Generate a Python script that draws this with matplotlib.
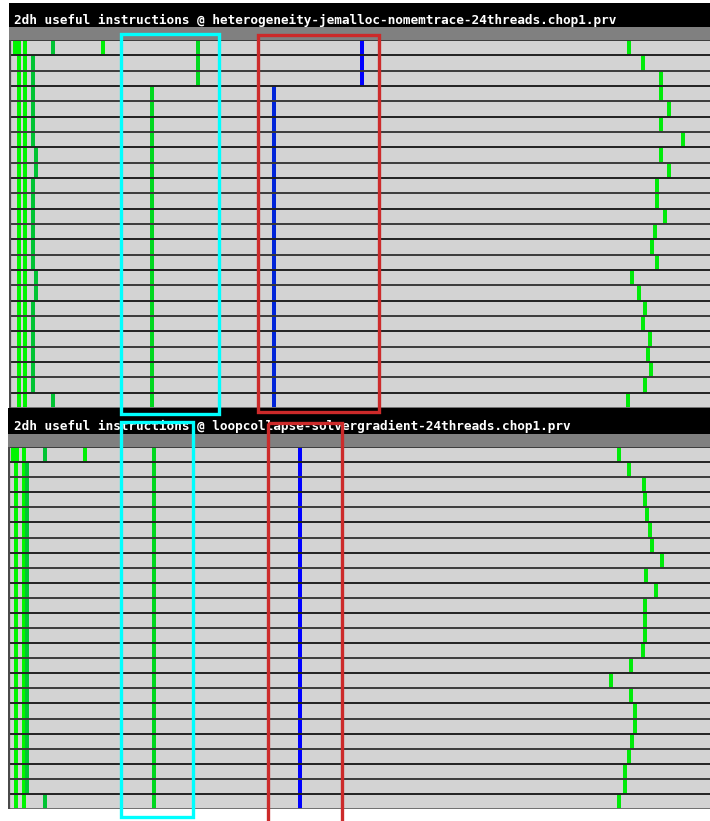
import matplotlib
matplotlib.use("Agg")
import matplotlib.pyplot as plt
from matplotlib.colors import LinearSegmentedColormap
from matplotlib.patches import Rectangle

# ---------------------------------------------------------------------------
# Paraver-style 2D histograms: one row per thread, x = useful-instruction bin,
# colour = cell value on a green (low) -> blue (high) gradient.
# ---------------------------------------------------------------------------
N_THREADS = 24
BIN_W = 4.0

TOP_TITLE = "2dh useful instructions @ heterogeneity-jemalloc-nomemtrace-24threads.chop1.prv"
BOT_TITLE = "2dh useful instructions @ loopcollapse-solvergradient-24threads.chop1.prv"

# --- heterogeneity-jemalloc run -------------------------------------------
top_bin_a = [12.5, 16.5] + [16.5] * 23          # thread 1 occupies two adjacent bins
top_bin_a_rows = [0, 0] + list(range(1, 24))
top_bin_b = [23.0] * 24
top_bin_c = [51.0, 30.8, 30.8, 30.8, 30.8, 30.8, 30.8, 34.0, 34.0, 30.8, 30.8, 30.8,
             30.8, 30.8, 30.8, 34.0, 34.0, 30.8, 30.8, 30.8, 30.8, 30.8, 30.8, 51.0]
top_bin_c_level = [0.2] * 24
top_extra_x, top_extra_row = [100.8], [0]
top_mid = [195.8] * 3 + [149.8] * 21
top_peak = [360.0] * 3 + [271.8] * 21
top_peak_level = [1.0] * 3 + [0.85] * 21
top_tail = [628.5, 643.0, 660.5, 660.5, 668.5, 660.5, 682.5, 660.5, 668.5, 657.0, 657.0, 664.5,
            655.0, 652.0, 657.0, 632.0, 639.0, 645.0, 643.0, 650.0, 648.0, 651.0, 645.0, 628.0]

# --- loopcollapse-solvergradient run --------------------------------------
bot_bin_a = [11.2, 15.0] + [14.0] * 23
bot_bin_a_rows = [0, 0] + list(range(1, 24))
bot_bin_b = [21.8] * 24
bot_bin_c = [42.5] + [25.2] * 22 + [42.5]
bot_extra_x, bot_extra_row = [83.3], [0]
bot_mid = [151.5] * 24
bot_peak = [298.2] * 24
bot_peak_level = [1.0] * 24
bot_tail = [618.5, 628.5, 643.5, 645.0, 647.0, 650.0, 652.0, 662.0, 646.0, 656.0, 645.0, 645.0,
            645.0, 643.0, 631.0, 611.0, 631.0, 635.0, 635.0, 632.0, 629.0, 625.0, 625.0, 619.0]

# highlighted regions (x in bin units, y in figure pixels)
TOP_BOXES = [(121.0, 219.0, 34.5, 414.0, "#00ffff"), (257.7, 379.0, 35.0, 412.5, "#cc2a2a")]
BOT_BOXES = [(120.5, 193.3, 422.3, 816.7, "#00ffff"), (268.3, 342.3, 423.3, 830.0, "#cc2a2a")]

gradient = LinearSegmentedColormap.from_list("paraver", [(0.0, 0.96, 0.0), (0.0, 0.0, 1.0)])

W, H = 710, 821


def frac(x0, y0, x1, y1):
    return [x0 / W, 1 - y1 / H, (x1 - x0) / W, (y1 - y0) / H]


def draw_cells(ax, xs, rows, levels):
    ax.bar(xs, [1] * len(xs), width=BIN_W, bottom=rows, align="edge",
           color=[gradient(v) for v in levels], linewidth=0, zorder=2)


def panel(fig, left, top, title_h, rows_h, title, baseline, cells):
    x_right = 710
    t_ax = fig.add_axes(frac(left, top, x_right, top + title_h))
    t_ax.set_facecolor("black")
    t_ax.set_xticks([]); t_ax.set_yticks([])
    for s in t_ax.spines.values():
        s.set_visible(False)
    t_ax.text((14 - left) / (x_right - left), (top + title_h - baseline) / title_h, title,
              transform=t_ax.transAxes, color="white", fontsize=9.2,
              family="DejaVu Sans Mono", fontweight="bold", va="baseline", ha="left")

    g_top = top + title_h
    g_ax = fig.add_axes(frac(left, g_top, x_right, g_top + 13))
    g_ax.set_facecolor("#808080")
    g_ax.set_xticks([]); g_ax.set_yticks([])
    for s in g_ax.spines.values():
        s.set_visible(False)

    r_top = g_top + 13
    ax = fig.add_axes(frac(left, r_top, x_right, r_top + rows_h))
    ax.set_facecolor("#d3d3d3")
    ax.set_xlim(left, x_right)
    ax.set_ylim(N_THREADS, 0)
    ax.set_xticks([]); ax.set_yticks([])
    for s in ax.spines.values():
        s.set_visible(False)
    ax.axvline(left + 0.6, color="#4a4a4a", lw=1.6, zorder=4)

    for xs, rows, levels in cells:
        draw_cells(ax, xs, rows, levels)

    for r in range(N_THREADS + 1):
        c = "#707070" if r == N_THREADS else ("#222222" if r % 2 else "#3a3a3a")
        ax.axhline(r, color=c, lw=1.4, zorder=3)
    return ax


rows = list(range(N_THREADS))

fig = plt.figure(figsize=(W / 100, H / 100), dpi=100)
fig.patch.set_facecolor("white")

top_cells = [
    (top_bin_a, top_bin_a_rows, [0.0] * len(top_bin_a)),
    (top_bin_b, rows, [0.0] * 24),
    (top_bin_c, rows, top_bin_c_level),
    (top_extra_x, top_extra_row, [0.02]),
    (top_mid, rows, [0.12] * 24),
    (top_peak, rows, top_peak_level),
    ([x - BIN_W / 2 for x in top_tail], rows, [0.04] * 24),
]
bot_cells = [
    (bot_bin_a, bot_bin_a_rows, [0.0] * len(bot_bin_a)),
    (bot_bin_b, rows, [0.0] * 24),
    (bot_bin_c, rows, [0.2] * 24),
    (bot_extra_x, bot_extra_row, [0.02]),
    (bot_mid, rows, [0.12] * 24),
    (bot_peak, rows, bot_peak_level),
    ([x - BIN_W / 2 for x in bot_tail], rows, [0.04] * 24),
]

panel(fig, 9, 3, 24, 368, TOP_TITLE, 24, top_cells)
panel(fig, 8, 408, 26, 362, BOT_TITLE, 430, bot_cells)

# highlight boxes drawn above both panels
ov = fig.add_axes([0, 0, 1, 1], zorder=20)
ov.set_xlim(0, W)
ov.set_ylim(H, 0)
ov.axis("off")
ov.patch.set_alpha(0)
for x0, x1, y0, y1, col in TOP_BOXES + BOT_BOXES:
    ov.add_patch(Rectangle((x0, y0), x1 - x0, y1 - y0, fill=False,
                           edgecolor=col, lw=2.4, joinstyle="miter"))

fig.savefig("out.png", dpi=100, facecolor="white")
